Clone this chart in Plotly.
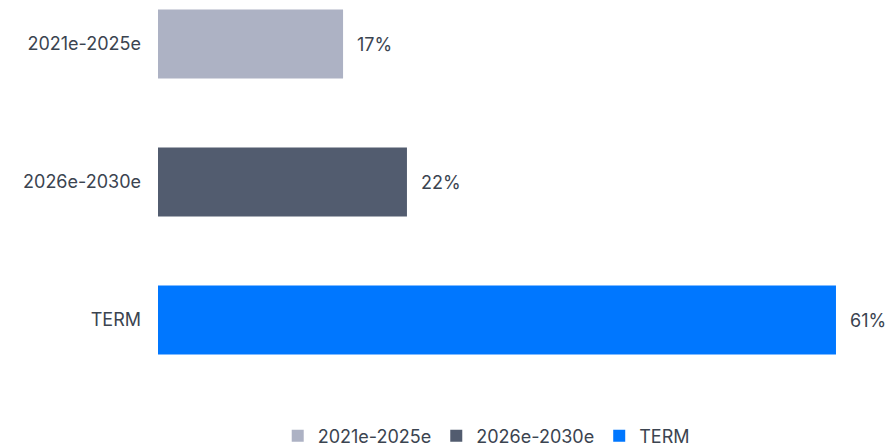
import plotly.graph_objects as go

categories = ["2021e-2025e", "2026e-2030e", "TERM"]
values = [16.65, 22.4, 61.0]
colors = ["#adb2c4", "#525c6f", "#0077ff"]

FONT = "Inter"
TXT = "#3b4450"

fig = go.Figure()
for cat, val, col in zip(categories, values, colors):
    fig.add_trace(go.Bar(
        y=[cat], x=[val], name=cat, orientation="h",
        marker=dict(color=col, line=dict(width=0)),
        width=0.5, hoverinfo="skip",
    ))
    fig.add_annotation(
        x=val, y=cat, xref="x", yref="y", text=f"{val:.0f}%",
        showarrow=False, xanchor="left", yanchor="middle", xshift=12,
        font=dict(family=FONT, size=18, color=TXT),
    )

fig.update_layout(
    width=889, height=447,
    margin=dict(l=158, r=0, t=0, b=57, autoexpand=False),
    paper_bgcolor="white", plot_bgcolor="white",
    barmode="overlay",
    font=dict(family=FONT, size=18, color=TXT),
    showlegend=True,
    legend=dict(orientation="h", x=0.449, xanchor="center", y=-0.118, yanchor="middle",
                font=dict(family=FONT, size=18, color=TXT), itemwidth=30,
                traceorder="normal"),
    xaxis=dict(visible=False, range=[0, 65.77]),
    yaxis=dict(categoryorder="array", categoryarray=categories,
               range=[2.507, -0.319], showgrid=False, zeroline=False,
               showline=False, ticks="", ticklabelstandoff=16,
               tickfont=dict(family=FONT, size=18, color=TXT)),
)

fig.write_html("out.html")
